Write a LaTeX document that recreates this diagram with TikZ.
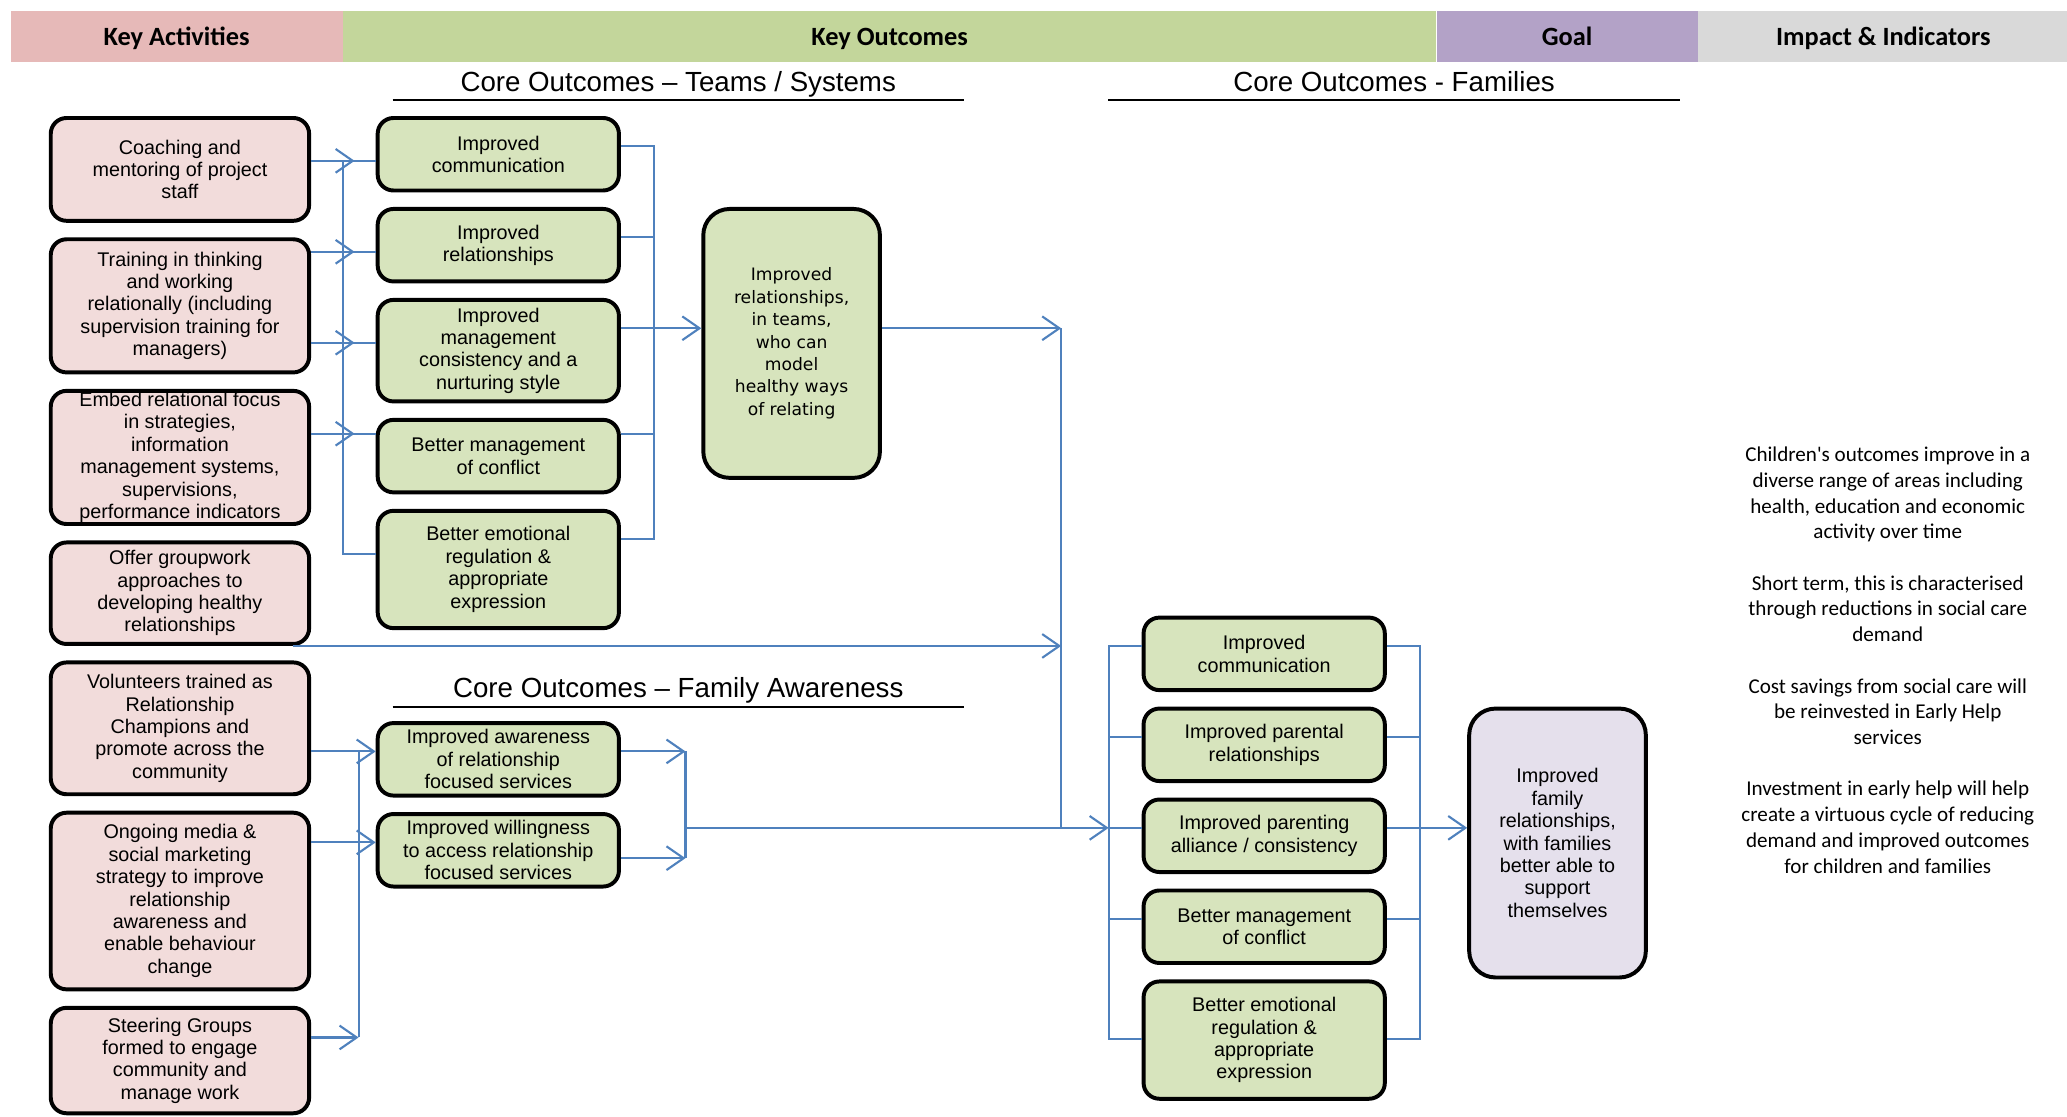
\documentclass[tikz,border=0pt]{standalone}
\usepackage{fontspec}
\setmainfont{Liberation Sans}
\newfontfamily\calfont{Carlito}
\newfontfamily\dejafont{DejaVu Sans}
\usepackage{tikz}
\usetikzlibrary{positioning}
\usetikzlibrary{arrows.meta,decorations.markings}
\definecolor{hdpink}{HTML}{E6B9B8}
\definecolor{hdgreen}{HTML}{C3D69B}
\definecolor{hdpurple}{HTML}{B3A2C7}
\definecolor{hdgrey}{HTML}{D9D9D9}
\definecolor{actfill}{HTML}{F2DCDB}
\definecolor{outfill}{HTML}{D7E4BD}
\definecolor{goalfill}{HTML}{E5E0EC}
\definecolor{linkblue}{HTML}{4F81BD}

\begin{document}
\begin{tikzpicture}[x=1pt,y=-1pt,>={Straight Barb[length=13pt,width=18pt]},node distance=11pt,
      band/.style={inner sep=0pt,minimum height=39pt,text height=16pt,text depth=2pt,font=\calfont\bfseries\fontsize{20}{24}\selectfont},
      sect/.style={inner sep=0pt,minimum width=433pt,text height=17pt,text depth=2.5pt,font=\fontsize{21}{25}\selectfont},
      rule/.style={line width=1.6pt},
      box/.style={draw,line width=3pt,rounded corners=12pt,align=center,inner sep=1pt,font=\fontsize{15}{17}\selectfont},
      act/.style={box,fill=actfill,minimum width=196pt},
      outc/.style={box,fill=outfill,minimum width=183pt,minimum height=55pt},
      tall/.style={box,rounded corners=20pt,minimum width=134pt,minimum height=204pt},
      link/.style={draw=linkblue,line width=1.6pt},
      tipat/.style={postaction={decorate},decoration={markings,mark=at position #1 with {\arrow{>}}}}]
      \useasboundingbox (0,0) rectangle (1568,847);

      \node[band,fill=hdpink,minimum width=252pt] (hact) at (134,27.5) {Key Activities};
      \node[band,fill=hdgreen,minimum width=829pt,right=0pt of hact] (hout) {Key Outcomes};
      \node[band,fill=hdpurple,minimum width=198pt,right=0pt of hout] (hgoal) {Goal};
      \node[band,fill=hdgrey,minimum width=281pt,right=0pt of hgoal] (himp) {Impact \& Indicators};

      \node[sect] (cteams) at (514.5,62) {Core Outcomes – Teams / Systems};
      \node[sect] (cfam) at (1057.5,62) {Core Outcomes - Families};
      \node[sect] (caware) at (514.5,522) {Core Outcomes – Family Awareness};
      \draw[rule] ([yshift=-14pt]cteams.west) -- ([yshift=-14pt]cteams.east);
      \draw[rule] ([yshift=-14pt]cfam.west) -- ([yshift=-14pt]cfam.east);
      \draw[rule] ([yshift=-14pt]caware.west) -- ([yshift=-14pt]caware.east);

      \node[act,minimum height=78pt] (act1) at (136.5,128.5) {Coaching and\\mentoring of project\\staff};
      \node[act,minimum height=101pt,below=of act1] (act2) {Training in thinking\\and working\\relationally (including\\supervision training for\\managers)};
      \node[act,minimum height=101pt,below=of act2] (act3) {Embed relational focus\\in strategies,\\information\\management systems,\\supervisions,\\performance indicators};
      \node[act,minimum height=77pt,below=of act3] (act4) {Offer groupwork\\approaches to\\developing healthy\\relationships};
      \node[act,minimum height=100pt,below=of act4] (act5) {Volunteers trained as\\Relationship\\Champions and\\promote across the\\community};
      \node[act,minimum height=134pt,below=of act5] (act6) {Ongoing media \&\\social marketing\\strategy to improve\\relationship\\awareness and\\enable behaviour\\change};
      \node[act,minimum height=80pt,below=of act6] (act7) {Steering Groups\\formed to engage\\community and\\manage work};

      \node[outc] (team1) at (378,117) {Improved\\communication};
      \node[outc,below=of team1] (team2) {Improved\\relationships};
      \node[outc,minimum height=77pt,below=of team2] (team3) {Improved\\management\\consistency and a\\nurturing style};
      \node[outc,below=of team3] (team4) {Better management\\of conflict};
      \node[outc,minimum height=89pt,below=of team4] (team5) {Better emotional\\regulation \&\\appropriate\\expression};
      \node[tall,fill=outfill,font=\dejafont\fontsize{13}{17}\selectfont] (teams) at (600.5,260.5) {Improved\\relationships,\\in teams,\\who can\\model\\healthy ways\\of relating};

      \node[outc] (aware1) at (378,576) {Improved awareness\\of relationship\\focused services};
      \node[outc,below=of aware1] (aware2) {Improved willingness\\to access relationship\\focused services};

      \node[outc] (fam1) at (959,496) {Improved\\communication};
      \node[outc,below=of fam1] (fam2) {Improved parental\\relationships};
      \node[outc,below=of fam2] (fam3) {Improved parenting\\alliance / consistency};
      \node[outc,below=of fam3] (fam4) {Better management\\of conflict};
      \node[outc,minimum height=89pt,below=of fam4] (fam5) {Better emotional\\regulation \&\\appropriate\\expression};
      \node[tall,fill=goalfill] (goal) at (1181.5,639.5) {Improved\\family\\relationships,\\with families\\better able to\\support\\themselves};

      \node[align=center,font=\calfont\fontsize{16}{19.5}\selectfont] (impact) at (1432,500.75) {Children's outcomes improve in a\\diverse range of areas including\\health, education and economic\\activity over time\\[19.5pt]Short term, this is characterised\\through reductions in social care\\demand\\[19.5pt]Cost savings from social care will\\be reinvested in Early Help\\services\\[19.5pt]Investment in early help will help\\create a virtuous cycle of reducing\\demand and improved outcomes\\for children and families};

      \coordinate (ta) at (260,122);
      \coordinate (tb) at (260,191);
      \coordinate (tc) at (260,260);
      \coordinate (td) at (260,329);
      \coordinate (te) at (260,420);
      \draw[link,tipat=-16pt] (act1.east |- ta) -- (team1.west |- ta);
      \draw[link,tipat=-16pt] (act2.east |- tb) -- (team2.west |- tb);
      \draw[link,tipat=-16pt] (act2.east |- tc) -- (team3.west |- tc);
      \draw[link,tipat=-16pt] (act3.east |- td) -- (team4.west |- td);
      \draw[link] (ta) -- (te) -- (team5.west |- te);

      \coordinate (ra) at (496,111);
      \coordinate (rb) at (496,180);
      \coordinate (rc) at (496,249);
      \coordinate (rd) at (496,329);
      \coordinate (re) at (496,409);
      \draw[link] (team1.east |- ra) -- (ra) -- (re) -- (team5.east |- re);
      \draw[link] (team2.east |- rb) -- (rb);
      \draw[link] (team4.east |- rd) -- (rd);
      \draw[link,->] (team3.east |- rc) -- (teams.west |- rc);

      \coordinate (ma) at (805,249);
      \coordinate (mc) at (805,628);
      \draw[link,->] (teams.east |- ma) -- (ma);
      \draw[link,->] ([xshift=-14pt]act4.south east) -- (act4.south -| ma);
      \draw[link] (ma) -- (mc);

      \coordinate (aa) at (272,570);
      \coordinate (ab) at (272,639);
      \coordinate (ac) at (272,787);
      \draw[link,->] (act5.east |- aa) -- (aware1.west |- aa);
      \draw[link,->] (act6.east |- ab) -- (aware2.west |- ab);
      \draw[link,->] (act7.east |- ac) -- (ac);
      \draw[link] (aa) -- (ac);

      \coordinate (wa) at (520,570);
      \coordinate (wb) at (520,651);
      \coordinate (wc) at (520,628);
      \draw[link,->] (aware1.east |- wa) -- (wa);
      \draw[link,->] (aware2.east |- wb) -- (wb);
      \draw[link] (wa) -- (wb);

      \coordinate (fa) at (841,490);
      \coordinate (fb) at (841,559);
      \coordinate (fc) at (841,628);
      \coordinate (fd) at (841,697);
      \coordinate (fe) at (841,788);
      \draw[link,->] (wc) -- (fc);
      \draw[link] (fam1.west |- fa) -- (fa) -- (fe) -- (fam5.west |- fe);
      \draw[link] (fb) -- (fam2.west |- fb);
      \draw[link] (fc) -- (fam3.west |- fc);
      \draw[link] (fd) -- (fam4.west |- fd);

      \coordinate (ga) at (1077,490);
      \coordinate (gb) at (1077,559);
      \coordinate (gc) at (1077,628);
      \coordinate (gd) at (1077,697);
      \coordinate (ge) at (1077,788);
      \draw[link] (fam1.east |- ga) -- (ga) -- (ge) -- (fam5.east |- ge);
      \draw[link] (fam2.east |- gb) -- (gb);
      \draw[link] (fam4.east |- gd) -- (gd);
      \draw[link,->] (fam3.east |- gc) -- (goal.west |- gc);
\end{tikzpicture}
\end{document}
